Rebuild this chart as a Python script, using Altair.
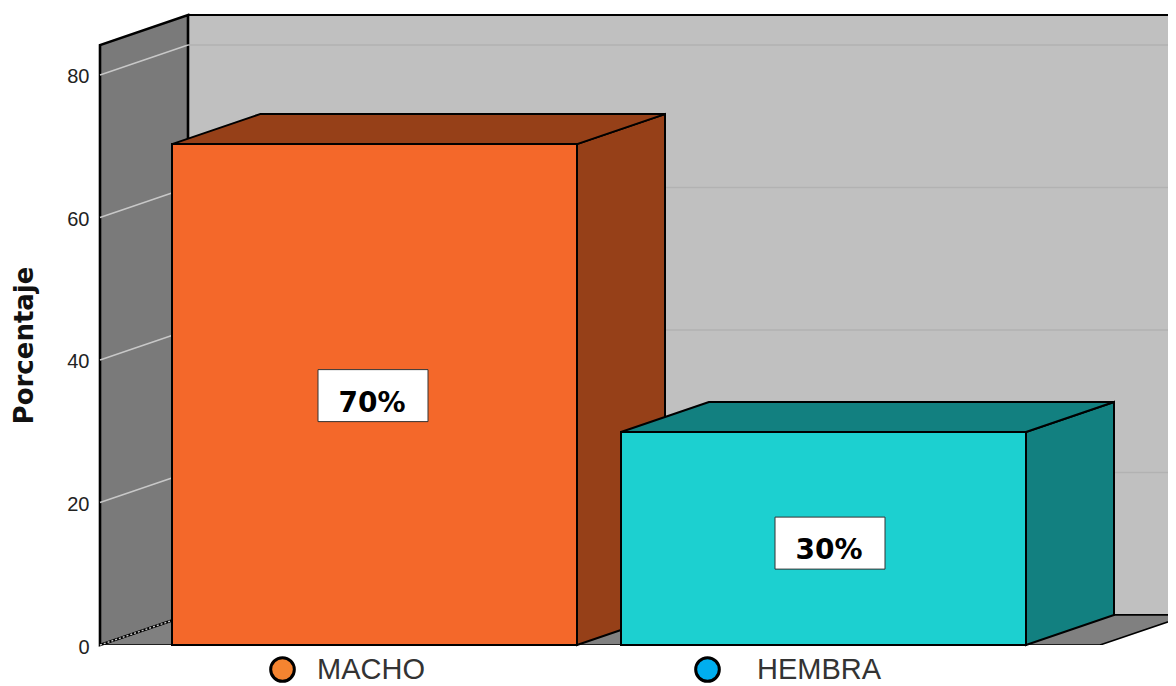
import altair as alt
import pandas as pd

categories = ["MACHO", "HEMBRA"]
values = [70.3, 29.9]
labels = ["70%", "30%"]
ticks = [0, 20, 40, 60, 80]
face_colors = ["#F4682A", "#1CD0D0"]
shade_colors = ["#964018", "#128080"]
legend_colors = ["#F58430", "#00AEEF"]

# geometry of the 3D box, in chart units
X_MAX = 1068
Y_TOP = 84.2
Y_MAX = 89.12
DX = 88
DY = 4.21
BAR_LEFT = [72, 521]
BAR_W = 405
LABEL_X = [273, 730]
LABEL_Y = [35, 14.3]
FLOOR_W = 1000
LEGEND_X = [168, 593]
LEGEND_OFFSET = [20, 35]

xs = alt.Scale(domain=[0, X_MAX], range=[0, X_MAX], nice=False, zero=False)
ys = alt.Scale(domain=[0, Y_MAX], nice=False, zero=False)
y_axis = alt.Axis(
    values=ticks,
    title="Porcentaje",
    titleFont="DejaVu Sans",
    titleFontSize=26,
    titleFontWeight="bold",
    titleColor="#111111",
    titleX=-76,
    titleY=335,
    titleAngle=270,
    titleAlign="center",
    titleBaseline="middle",
    labelFont="Liberation Sans",
    labelFontSize=20,
    labelColor="#222222",
    labelPadding=11,
    labelOffset=2,
    ticks=False,
    domain=False,
    grid=False,
)
X = lambda f="x": alt.X(f"{f}:Q", scale=xs, axis=None)
Y = lambda f="y": alt.Y(f"{f}:Q", scale=ys, axis=y_axis)


def vface(rows, fill, stroke="#000000", sw=2, clip=False):
    return alt.Chart(pd.DataFrame(rows)).mark_area(
        orient="vertical", fill=fill, stroke=stroke, strokeWidth=sw, clip=clip
    ).encode(x=X(), y=Y(), y2=alt.Y2("y2:Q"))


def hface(rows, fill, stroke="#000000", sw=2, clip=False):
    return alt.Chart(pd.DataFrame(rows)).mark_area(
        orient="horizontal", fill=fill, stroke=stroke, strokeWidth=sw, clip=clip
    ).encode(y=Y(), x=X(), x2=alt.X2("x2:Q"))


layers = []

# back wall
back = alt.Chart(pd.DataFrame([{"x": DX, "x2": X_MAX + 20, "y": DY, "y2": Y_TOP + DY}])).mark_rect(
    fill="#C0C0C0", stroke="#000000", strokeWidth=2, clip=True
).encode(x=X(), x2=alt.X2("x2:Q"), y=Y(), y2=alt.Y2("y2:Q"))
layers.append(back)

# floor
layers.append(hface([
    {"y": 0, "x": 0, "x2": FLOOR_W},
    {"y": DY, "x": DX, "x2": FLOOR_W + DX},
], "#808080", sw=1.6, clip=True))

# left wall
layers.append(vface([
    {"x": 0, "y": 0, "y2": Y_TOP},
    {"x": DX, "y": DY, "y2": Y_TOP + DY},
], "#7A7A7A", sw=2.6))

# gridlines on the walls
for t in ticks:
    side = pd.DataFrame([{"x": 0, "y": t}, {"x": DX, "y": t + DY}])
    mark = dict(color="#C8C8C8", strokeWidth=1.4)
    if t == 0:
        mark["strokeDash"] = [2, 2]
    layers.append(alt.Chart(side).mark_line(**mark).encode(x=X(), y=Y()))
    if t > 0:
        wall = pd.DataFrame([{"x": DX, "y": t + DY}, {"x": X_MAX, "y": t + DY}])
        layers.append(alt.Chart(wall).mark_line(color="#B2B2B2", strokeWidth=1.6).encode(x=X(), y=Y()))

# the bars
for i, v in enumerate(values):
    L, R = BAR_LEFT[i], BAR_LEFT[i] + BAR_W
    layers.append(vface([
        {"x": R, "y": 0, "y2": v},
        {"x": R + DX, "y": DY, "y2": v + DY},
    ], shade_colors[i]))
    layers.append(hface([
        {"y": v, "x": L, "x2": R},
        {"y": v + DY, "x": L + DX, "x2": R + DX},
    ], shade_colors[i]))
    front = pd.DataFrame([{"x": L, "x2": R, "y": 0, "y2": v}])
    layers.append(alt.Chart(front).mark_rect(
        fill=face_colors[i], stroke="#000000", strokeWidth=2
    ).encode(x=X(), x2=alt.X2("x2:Q"), y=Y(), y2=alt.Y2("y2:Q")))

# value labels
lab = pd.DataFrame({
    "x": [c - 55 for c in LABEL_X],
    "x2": [c + 55 for c in LABEL_X],
    "xc": [c - 1 for c in LABEL_X],
    "y": [c - 3.65 for c in LABEL_Y],
    "y2": [c + 3.65 for c in LABEL_Y],
    "yc": LABEL_Y,
    "t": labels,
})
layers.append(alt.Chart(lab).mark_rect(fill="#FFFFFF", stroke="#333333", strokeWidth=1).encode(
    x=X(), x2=alt.X2("x2:Q"), y=Y(), y2=alt.Y2("y2:Q")
))
layers.append(alt.Chart(lab).mark_text(
    font="DejaVu Sans", fontSize=28, fontWeight="bold", color="#000000",
    align="center", baseline="alphabetic", dy=16
).encode(x=X("xc"), y=Y("yc"), text="t:N"))

# legend carriers: invisible points, one real one-entry legend per category
for i, cat in enumerate(categories):
    leg = pd.DataFrame({"c": [cat], "x": [DX], "y": [DY]})
    layers.append(alt.Chart(leg).mark_point(filled=True, opacity=0, shape="circle").encode(
        x=X(),
        y=Y(),
        color=alt.Color(
            "c:N",
            scale=alt.Scale(domain=[cat], range=[legend_colors[i]]),
            legend=alt.Legend(
                title=None,
                orient="none",
                legendX=LEGEND_X[i],
                legendY=645,
                symbolType="circle",
                symbolSize=560,
                symbolOpacity=1,
                symbolStrokeColor="#000000",
                symbolStrokeWidth=3,
                labelFont="Liberation Sans",
                labelFontSize=29,
                labelColor="#333333",
                labelOffset=LEGEND_OFFSET[i],
                labelLimit=300,
            ),
        ),
    ))

chart = alt.layer(*layers).resolve_scale(color="independent").properties(
    width=X_MAX,
    height=635,
    padding={"left": 92, "top": 2, "right": 0, "bottom": 41},
    autosize=alt.AutoSizeParams(type="none"),
    background="#FFFFFF",
).configure_view(stroke=None)

chart.save("out.html", embed_options={"renderer": "svg", "actions": False})
